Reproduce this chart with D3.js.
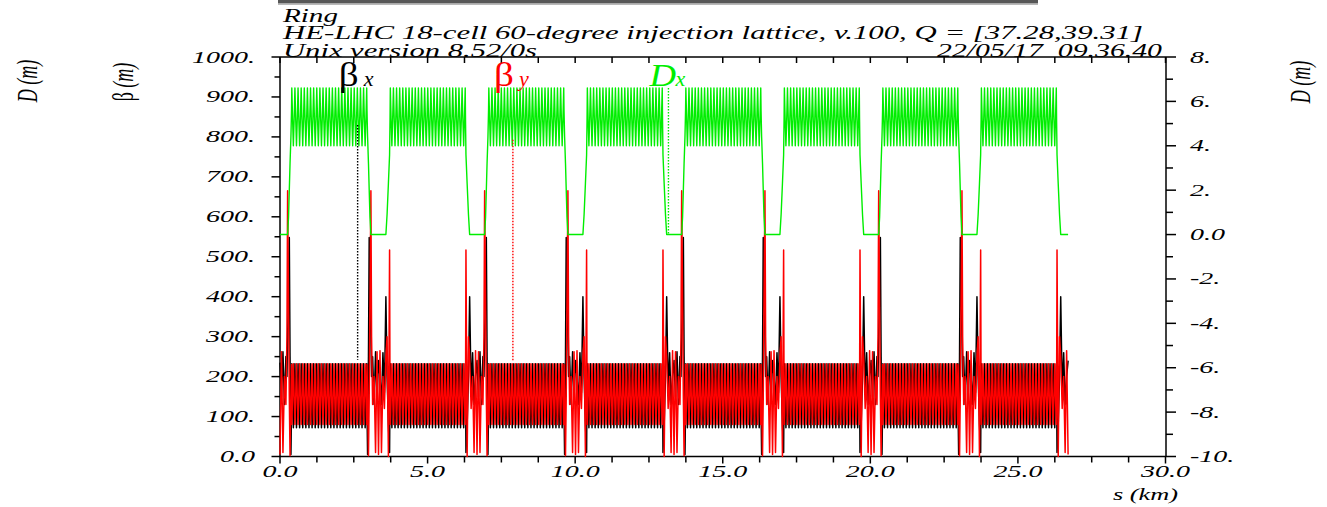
<!DOCTYPE html>
<html><head><meta charset="utf-8">
<script src="https://cdn.jsdelivr.net/npm/d3@7/dist/d3.min.js"></script>
<style>body{margin:0;background:#fff;} svg{display:block;} text{white-space:pre;}</style>
</head><body>
<svg id="c" width="1327" height="507"></svg>
<script>
// ---------------- data ----------------
const circumference = 26.7;          // km, ring length
const irCount = 8;                   // insertions (IR centres at k*C/8)
const irSides = ["BA","AB","BA","AB","BA","AB","BA","AB","BA"]; // left|right half type per IR
const arcEdge = 0.40;                // km from IR centre where the arc starts
const cellsPerArc = 24;
// one FODO arc cell (fraction of cell length)
const cellFrac = [0, 0.25, 0.5, 0.75];
const cellBetx = [232, 150, 72, 150];
const cellBety = [80, 150, 232, 150];
const cellDx   = [6.6, 5.2, 4.0, 5.2];
// half-insertion type A (big 665 m peak), distance from IR centre in km
const irA_d    = [0, 0.05, 0.10, 0.15, 0.20, 0.235, 0.258, 0.29, 0.315, 0.34, 0.37, 0.39];
const irA_betx = [235, 150, 262, 130, 250, 200, 300, 420, 548, 250, 5, 120];
const irA_bety = [5, 262, 10, 200, 130, 300, 665, 380, 150, 2, 150, 230];
const irA_dx   = [0, 0, 0, 0, 0, 0, 0, 0.8, 2.0, 3.2, 4.4, 5.6];
// half-insertion type B (517 m / 400 m peaks)
const irB_d    = [0, 0.05, 0.10, 0.15, 0.20, 0.25, 0.29, 0.335, 0.375, 0.39];
const irB_betx = [240, 200, 130, 260, 160, 400, 200, 80, 10, 200];
const irB_bety = [5, 265, 10, 200, 120, 250, 300, 0, 517, 150];
const irB_dx   = [0, 0, 0, 0, 0, 0, 0.9, 2.3, 3.6, 5.2];
// ticks / labels
const betaTicks = [0,100,200,300,400,500,600,700,800,900,1000];
const betaLabels = ["0.0","100.","200.","300.","400.","500.","600.","700.","800.","900.","1000."];
const dTicks = [8,6,4,2,0,-2,-4,-6,-8,-10];
const dLabels = ["8.","6.","4.","2.","0.0","-2.","-4.","-6.","-8.","-10."];
const sTicks = [0,5,10,15,20,25,30];
const sLabels = ["0.0","5.0","10.0","15.0","20.0","25.0","30.0"];
// legend
const legendNames = ["β","β","D"];
const legendSubs  = ["x","y","x"];
const legendColors = ["#000000","#ff0000","#00ee00"];
const legendS = [2.63, 7.89, 13.16];
const legendTop = [830, 793, 6.6];
const legendBottom = [242, 237, 0];
const headerLines = ["Ring","HE-LHC 18-cell 60-degree injection lattice, v.100, Q = [37.28,39.31]","Unix version 8.52/0s"];
const dateText = "22/05/17  09.36.40";

// ---------------- build the optics series ----------------
const tmpl = {
  A:{d:irA_d,bx:irA_betx,by:irA_bety,dx:irA_dx},
  B:{d:irB_d,bx:irB_betx,by:irB_bety,dx:irB_dx}
};
const pts = [];
const per = circumference/irCount;
for (let k=0;k<=irCount;k++){
  const c = k*per;
  if (k>0){
    const T = tmpl[irSides[k][0]];
    for (let i=T.d.length-1;i>=0;i--) pts.push({s:c-T.d[i],bx:T.bx[i],by:T.by[i],dx:T.dx[i]});
  }
  if (k<irCount){
    const T = tmpl[irSides[k][1]];
    for (let i=0;i<T.d.length;i++) pts.push({s:c+T.d[i],bx:T.bx[i],by:T.by[i],dx:T.dx[i]});
    const a0 = c+arcEdge, a1 = c+per-arcEdge, L=(a1-a0)/cellsPerArc;
    for (let j=0;j<cellsPerArc;j++) for (let f=0;f<cellFrac.length;f++)
      pts.push({s:a0+(j+cellFrac[f])*L,bx:cellBetx[f],by:cellBety[f],dx:cellDx[f]});
    pts.push({s:a1,bx:cellBetx[0],by:cellBety[0],dx:cellDx[0]});
  }
}

// ---------------- drawing ----------------
const svg = d3.select("#c");
const X  = d3.scaleLinear().domain([0,30]).range([280,1165.5]);
const YB = d3.scaleLinear().domain([0,1000]).range([456.5,57]);
const YD = d3.scaleLinear().domain([-10,8]).range([456.5,57]);
const serif = "'Liberation Serif','Times New Roman',serif";

function stext(x,y,str,o){
  o=o||{};
  const g = svg.append("g").attr("transform",`translate(${x},${y}) scale(${o.sx||1.7},1)`+(o.rot?` rotate(${o.rot})`:""));
  const t = g.append("text").attr("text-anchor",o.anchor||"start")
    .attr("font-family",serif).attr("font-size",o.size||16.5)
    .attr("font-style",o.italic===false?"normal":"italic")
    .attr("fill",o.fill||"#000").text(str);
  return t;
}

// top grey bar
svg.append("rect").attr("x",278).attr("y",0).attr("width",760).attr("height",3.5).attr("fill","#575757");
svg.append("rect").attr("x",278).attr("y",3.5).attr("width",760).attr("height",1.3).attr("fill","#a8a8a8");

// header
const hdrW = [55, 860, 254];
const hdrY = [21.5, 39.3, 56.5];
headerLines.forEach((h,i)=>{
  svg.append("text").attr("x",283).attr("y",hdrY[i]).attr("font-family",serif).attr("font-style","italic")
    .attr("font-size",18.5).attr("textLength",hdrW[i]).attr("lengthAdjust","spacingAndGlyphs").text(h);
});
svg.append("text").attr("x",937).attr("y",56.5).attr("font-family",serif).attr("font-style","italic")
  .attr("font-size",18.5).attr("textLength",225).attr("lengthAdjust","spacingAndGlyphs").text(dateText);

// axes
const ax = svg.append("g").attr("stroke","#000").attr("stroke-width",1.5).attr("fill","none");
const x0=X(0), x1=1166, y0=YB(0), y1=YB(1000);
ax.append("line").attr("x1",x0).attr("x2",x1).attr("y1",y0).attr("y2",y0);
ax.append("line").attr("x1",x0).attr("x2",x1).attr("y1",y1).attr("y2",y1);
ax.append("line").attr("x1",x0).attr("x2",x0).attr("y1",y1).attr("y2",y0);
ax.append("line").attr("x1",x1).attr("x2",x1).attr("y1",y1).attr("y2",y0);
// left ticks
d3.range(0,1001,50).forEach(v=>{
  const L = v%100===0?8.5:5.5;
  ax.append("line").attr("x1",x0-L).attr("x2",x0).attr("y1",YB(v)).attr("y2",YB(v));
});
// right ticks
d3.range(-10,8.01,1).forEach(v=>{
  const L = v%2===0?10:7;
  ax.append("line").attr("x1",x1).attr("x2",x1+L).attr("y1",YD(v)).attr("y2",YD(v));
});
// bottom & top ticks
d3.range(0,30.01,1.25).forEach(v=>{
  const L = v%5===0?7:6;
  ax.append("line").attr("x1",X(v)).attr("x2",X(v)).attr("y1",y0).attr("y2",y0+L);
  ax.append("line").attr("x1",X(v)).attr("x2",X(v)).attr("y1",y1).attr("y2",y1+6);
});

// tick labels
betaTicks.forEach((v,i)=>stext(255,YB(v)+5.5,betaLabels[i],{anchor:"end"}));
dTicks.forEach((v,i)=>stext(1190,YD(v)+5.5,dLabels[i]));
sTicks.forEach((v,i)=>stext(X(v),477,sLabels[i],{anchor:"middle"}));
stext(1113,500,"s (km)",{size:17,sx:1.55});

// axis titles (rotated)
function rlabel(x,y,parts){
  const g = svg.append("g").attr("transform",`translate(${x},${y}) scale(1.6,1) rotate(-90)`);
  const t = g.append("text").attr("text-anchor","middle").attr("font-family",serif).attr("font-size",18);
  parts.forEach(p=>t.append("tspan").attr("font-style",p[1]?"italic":"normal").text(p[0]));
}
rlabel(37,81,[["D ",true],["(m)",true]]);
rlabel(133,82,[["β ",false],["(m)",true]]);
rlabel(1310,82,[["D ",true],["(m)",true]]);

// curves
const line = (acc,Y)=>d3.line().x(p=>X(p.s)).y(p=>Y(acc(p)));
const curves = svg.append("g").attr("fill","none").attr("stroke-linejoin","round");
curves.append("path").datum(pts).attr("d",line(p=>p.bx,YB)).attr("stroke","#000").attr("stroke-width",1.5);
curves.append("path").datum(pts).attr("d",line(p=>p.by,YB)).attr("stroke","#ff0000").attr("stroke-width",1.5);
curves.append("path").datum(pts).attr("d",line(p=>p.dx,YD)).attr("stroke","#00ee00").attr("stroke-width",1.4);

// legend with dotted leaders
const legSize = [34,34,32];
legendNames.forEach((n,i)=>{
  const Y = i<2?YB:YD;
  svg.append("line").attr("x1",X(legendS[i])).attr("x2",X(legendS[i]))
    .attr("y1",Y(legendTop[i])).attr("y2",Y(legendBottom[i]))
    .attr("stroke",legendColors[i]).attr("stroke-width",1.4).attr("stroke-dasharray","1.5,1.5");
  const lx = X(legendS[i]) - 19;
  stext(lx,86,n,{size:legSize[i],italic:n==="D",fill:legendColors[i],sx:1.15});
  stext(lx+(n==="D"?26:25),86,legendSubs[i],{size:20,fill:legendColors[i],sx:1.1});
});
</script>
</body></html>
